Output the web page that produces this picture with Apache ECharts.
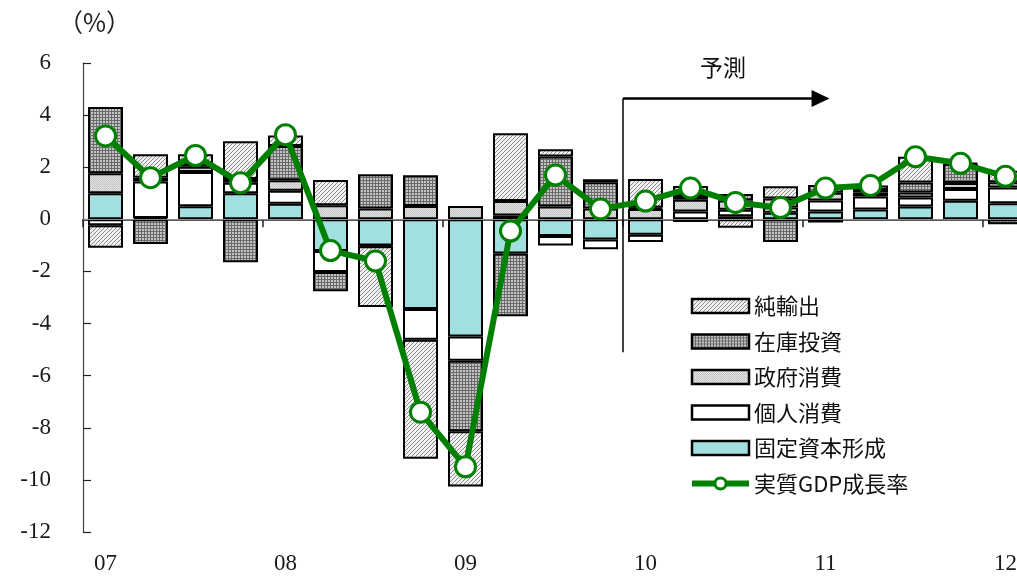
<!DOCTYPE html>
<html>
<head>
<meta charset="utf-8">
<script src="https://cdn.jsdelivr.net/npm/echarts@6/dist/echarts.min.js"></script>
<style>
  html, body { margin: 0; padding: 0; background: #fff; }
  #chart { width: 1017px; height: 576px; }
</style>
</head>
<body>
<div id="chart"></div>
<script>
// Quarterly contributions to real GDP growth (percentage points), 2007Q1 - 2012Q1
const quarters = [
  '07-1','07-2','07-3','07-4',
  '08-1','08-2','08-3','08-4',
  '09-1','09-2','09-3','09-4',
  '10-1','10-2','10-3','10-4',
  '11-1','11-2','11-3','11-4',
  '12-1'
];

const fixedCapital = [1.0, 0.05, 0.5, 1.0, 0.6, -1.22, -1.0, -3.44, -4.5, -1.31, -0.64, -0.77,
  -0.59, -0.1, 0.12, 0.25, 0.3, 0.38, 0.49, 0.71, 0.62];
const privateConsumption = [-0.23, 1.4, 1.32, 0.4, 0.5, -0.8, -0.03, -1.18, -0.93, 0.15, -0.36, -0.38,
  -0.28, 0.3, 0.25, 0.2, 0.42, 0.5, 0.35, 0.45, 0.6];
const governmentConsumption = [0.77, 0.15, 0.2, 0.15, 0.4, 0.54, 0.42, 0.51, 0.51, 0.55, 0.49, 0.42,
  0.4, 0.45, 0.35, 0.35, 0.3, 0.15, 0.19, 0.23, 0.2];
const inventory = [2.54, -0.95, 0.1, -1.65, 1.31, -0.74, 1.31, 1.18, -2.7, -2.41, 1.92, 1.0,
  0.05, 0.15, 0.25, -0.87, 0.3, 0.1, 0.38, 0.73, -0.19];
const netExports = [-0.86, 0.9, 0.38, 1.45, 0.41, 0.97, -2.33, -4.57, -2.12, 2.6, 0.28, 0.12,
  1.1, 0.38, -0.32, 0.47, -0.12, 0.17, 0.99, 0.05, 0.44];
const realGdpGrowth = [3.2, 1.6, 2.45, 1.4, 3.25, -1.2, -1.6, -7.4, -9.5, -0.45, 1.7, 0.4,
  0.7, 1.2, 0.65, 0.45, 1.2, 1.3, 2.4, 2.15, 1.65];

// Forecast marker: starts at the 2010 boundary (category index 12)
const forecastStart = 12;
const forecastArrowEnd = 16.39;
const forecastTop = 4.64;
const forecastBottom = -5.1;

const yTicks = { min: -12, max: 6, step: 2 };

const serifFont = "'Liberation Serif', 'Noto Sans CJK JP', serif";
const jpFont = "'Noto Sans CJK JP', sans-serif";

// Small bitmap fills for the bar segments
function makePattern(size, painter) {
  const c = document.createElement('canvas');
  c.width = size; c.height = size;
  const ctx = c.getContext('2d');
  painter(ctx);
  return { image: c, repeat: 'repeat' };
}
function px(ctx, x, y, col) { ctx.fillStyle = col; ctx.fillRect(x, y, 1, 1); }

const hatchFill = makePattern(4, ctx => {
  ctx.fillStyle = '#f2f2f2'; ctx.fillRect(0, 0, 4, 4);
  for (let i = 0; i < 4; i++) px(ctx, i, 3 - i, '#8a8a8a');
});
const meshFill = makePattern(3, ctx => {
  ctx.fillStyle = '#c4c4c4'; ctx.fillRect(0, 0, 3, 3);
  ctx.fillStyle = '#6a6a6a'; ctx.fillRect(0, 0, 3, 1); ctx.fillRect(0, 0, 1, 3);
});
const dotFill = makePattern(2, ctx => {
  ctx.fillStyle = '#e4e4e4'; ctx.fillRect(0, 0, 2, 2);
  px(ctx, 0, 0, '#bdbdbd'); px(ctx, 1, 1, '#c8c8c8');
});

function barSeries(name, data, fill) {
  return {
    type: 'bar',
    name: name,
    stack: 'contrib',
    barWidth: 35,
    xAxisIndex: 0,
    yAxisIndex: 0,
    z: 2,
    data: data,
    emphasis: { disabled: true },
    itemStyle: { color: fill, borderColor: '#000', borderWidth: 2 }
  };
}

function barLegend(name) {
  return { name: name, icon: 'rect', itemStyle: { borderColor: '#000', borderWidth: 2.5 } };
}

const chart = echarts.init(document.getElementById('chart'), null, { renderer: 'canvas' });

chart.setOption({
  animation: false,
  backgroundColor: '#ffffff',
  // the plot runs past the right edge of the page: 21 quarters of 45px each
  grid: { left: 83, top: 63, width: 945, height: 469, containLabel: false, outerBoundsMode: 'none' },
  xAxis: [
    {
      type: 'category',
      data: quarters,
      boundaryGap: true,
      axisLine: { show: true, lineStyle: { color: '#222', width: 1.5 } },
      axisTick: {
        show: true, length: 8, inside: false,
        interval: i => i % 4 === 0,
        lineStyle: { color: '#222', width: 1.5 }
      },
      axisLabel: {
        interval: i => i % 4 === 0,
        formatter: v => v.slice(0, 2),
        margin: 20,
        hideOverlap: false,
        fontFamily: serifFont, fontSize: 23, color: '#1a1a1a'
      },
      splitLine: { show: false }
    },
    {
      type: 'value', min: 0, max: quarters.length, show: false
    }
  ],
  yAxis: {
    type: 'value',
    min: yTicks.min, max: yTicks.max, interval: yTicks.step,
    axisLine: { show: true, lineStyle: { color: '#444', width: 1.2 } },
    axisTick: { show: true, inside: true, length: 8, lineStyle: { color: '#222', width: 1.2 } },
    axisLabel: { margin: 32, fontFamily: serifFont, fontSize: 23, color: '#1a1a1a' },
    splitLine: { show: false }
  },
  legend: {
    orient: 'vertical',
    left: 684,
    top: 289,
    itemWidth: 57,
    itemHeight: 14,
    itemGap: 11.5,
    selectedMode: false,
    data: [
      barLegend('純輸出'),
      barLegend('在庫投資'),
      barLegend('政府消費'),
      barLegend('個人消費'),
      barLegend('固定資本形成'),
      {
        name: '実質GDP成長率',
        itemStyle: { color: '#ffffff', borderColor: '#008000', borderWidth: 3 },
        lineStyle: { color: '#008000', width: 6 }
      }
    ],
    textStyle: { fontFamily: jpFont, fontSize: 22, lineHeight: 24, color: '#111' }
  },
  graphic: [
    {
      type: 'text', left: 58, top: 10,
      style: { text: '（%）', font: "25px 'Noto Sans CJK JP', sans-serif", fill: '#222' }
    },
    {
      type: 'text', left: 700, top: 56,
      style: { text: '予測', font: "23px 'Noto Sans CJK JP', sans-serif", fill: '#111' }
    }
  ],
  series: [
    {
      // zero line and forecast marker, drawn on the value-scaled x axis
      type: 'line',
      name: 'guide',
      xAxisIndex: 1,
      yAxisIndex: 0,
      data: [[forecastStart, forecastTop]],
      symbol: 'none',
      lineStyle: { width: 0 },
      z: 1,
      silent: true,
      markLine: {
        silent: true,
        symbol: 'none',
        label: { show: false },
        emphasis: { disabled: true },
        data: [
          [{ coord: [0, 0] }, { coord: [quarters.length, 0], lineStyle: { color: '#888', width: 1.2, type: 'solid' } }],
          [{ coord: [forecastStart, forecastTop] },
           { coord: [forecastStart, forecastBottom], lineStyle: { color: '#111', width: 1.6, type: 'solid' } }],
          [{ coord: [forecastStart, forecastTop], symbol: 'none' },
           { coord: [forecastArrowEnd, forecastTop], symbol: 'triangle', symbolSize: [17, 18],
             lineStyle: { color: '#000', width: 2.6, type: 'solid' } }]
        ]
      }
    },
    barSeries('固定資本形成', fixedCapital, '#a2e0df'),
    barSeries('個人消費', privateConsumption, '#ffffff'),
    barSeries('政府消費', governmentConsumption, dotFill),
    barSeries('在庫投資', inventory, meshFill),
    barSeries('純輸出', netExports, hatchFill),
    {
      type: 'line',
      name: '実質GDP成長率',
      data: realGdpGrowth,
      xAxisIndex: 0,
      yAxisIndex: 0,
      z: 5,
      symbol: 'circle',
      symbolSize: 20,
      showAllSymbol: true,
      lineStyle: { color: '#008000', width: 6 },
      itemStyle: { color: '#ffffff', borderColor: '#008000', borderWidth: 3 },
      emphasis: { disabled: true }
    }
  ]
});
</script>
</body>
</html>
